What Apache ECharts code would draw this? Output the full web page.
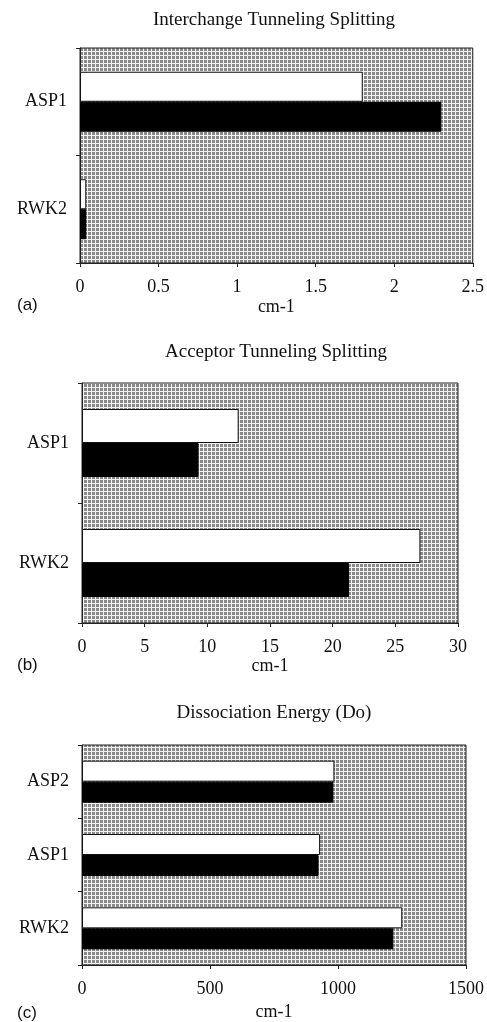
<!DOCTYPE html>
<html>
<head>
<meta charset="utf-8">
<script src="https://cdn.jsdelivr.net/npm/echarts@6/dist/echarts.min.js"></script>
<style>
  html, body { margin: 0; padding: 0; background: #fff; }
  #chart { width: 487px; height: 1022px; }
</style>
</head>
<body>
<div id="chart"></div>
<script>
  // panel (a) Interchange Tunneling Splitting
  const catsA = ['ASP1', 'RWK2']
  const whiteA = [1.80, 0.04]
  const blackA = [2.30, 0.04]
  // panel (b) Acceptor Tunneling Splitting
  const catsB = ['ASP1', 'RWK2']
  const whiteB = [12.5, 27.0]
  const blackB = [9.3, 21.3]
  // panel (c) Dissociation Energy (Do)
  const catsC = ['ASP2', 'ASP1', 'RWK2']
  const whiteC = [986, 930, 1251]
  const blackC = [982, 924, 1216]

  const titles = ['Interchange Tunneling Splitting', 'Acceptor Tunneling Splitting', 'Dissociation Energy (Do)']
  const panelTags = ['(a)', '(b)', '(c)']

  // stippled grey fill for plot areas
  const pat = document.createElement('canvas')
  pat.width = 4
  pat.height = 4
  const pc = pat.getContext('2d')
  pc.fillStyle = '#f2f2f2'
  pc.fillRect(0, 0, 4, 4)
  pc.fillStyle = '#8a8a8a'
  pc.fillRect(0, 0, 3, 3)

  const serif = '"Liberation Serif", "DejaVu Serif", serif'

  const grids = [
    { left: 80, top: 48, width: 396, height: 215 },
    { left: 82, top: 383, width: 376, height: 240 },
    { left: 82, top: 745, width: 384, height: 222 }
  ].map(g => Object.assign(g, {
    show: true,
    backgroundColor: { image: pat, repeat: 'repeat' },
    borderColor: '#222',
    borderWidth: 1
  }))

  const xCfg = [
    { max: 2.5, interval: 0.5, gap: 35 },
    { max: 30, interval: 5, gap: 34 },
    { max: 1500, interval: 500, gap: 38 }
  ]

  const xAxes = xCfg.map((c, i) => ({
    type: 'value',
    gridIndex: i,
    min: 0,
    max: c.max,
    interval: c.interval,
    name: 'cm-1',
    nameLocation: 'middle',
    nameGap: c.gap,
    nameTextStyle: { fontFamily: serif, fontSize: 18, color: '#111' },
    axisLine: { show: true, lineStyle: { color: '#222', width: 1 } },
    axisTick: { show: true, length: 4, lineStyle: { color: '#222' } },
    axisLabel: { margin: 15, fontFamily: serif, fontSize: 18, color: '#111', formatter: v => String(v) },
    splitLine: { show: false }
  }))

  const yAxes = [catsA, catsB, catsC].map((cats, i) => ({
    type: 'category',
    gridIndex: i,
    data: cats,
    inverse: true,
    axisLine: { show: true, lineStyle: { color: '#222', width: 1 } },
    axisTick: { show: true, length: 4, lineStyle: { color: '#222' } },
    axisLabel: { margin: 13, fontFamily: serif, fontSize: 18, color: '#111' }
  }))

  const barW = [30, 34, 21]
  const whites = [whiteA, whiteB, whiteC]
  const blacks = [blackA, blackB, blackC]
  const series = []
  for (let i = 0; i < 3; i++) {
    series.push({
      type: 'bar',
      xAxisIndex: i,
      yAxisIndex: i,
      data: whites[i],
      barWidth: barW[i],
      barGap: '0%',
      itemStyle: { color: '#fff', borderColor: '#111', borderWidth: 1 },
      silent: true
    })
    series.push({
      type: 'bar',
      xAxisIndex: i,
      yAxisIndex: i,
      data: blacks[i],
      barWidth: barW[i],
      barGap: '0%',
      itemStyle: { color: '#000', borderColor: '#000', borderWidth: 1 },
      silent: true
    })
  }

  const titlePos = [[274, 20], [276, 352], [274, 713]]
  const tagPos = [[17, 305], [17, 665], [17, 1013]]
  const graphic = []
  titles.forEach((t, i) => {
    graphic.push({
      type: 'text', x: titlePos[i][0], y: titlePos[i][1],
      style: { text: t, font: '19px ' + serif, fill: '#111', textAlign: 'center', textVerticalAlign: 'middle' }
    })
  })
  panelTags.forEach((t, i) => {
    graphic.push({
      type: 'text', x: tagPos[i][0], y: tagPos[i][1],
      style: { text: t, font: '17px "Liberation Sans", Arial, sans-serif', fill: '#111', textAlign: 'left', textVerticalAlign: 'middle' }
    })
  })

  const option = {
    animation: false,
    backgroundColor: '#fff',
    grid: grids,
    xAxis: xAxes,
    yAxis: yAxes,
    series: series,
    graphic: graphic
  }

  const myChart = echarts.init(document.getElementById('chart'), null, { renderer: 'canvas' })
  myChart.setOption(option)
</script>
</body>
</html>
